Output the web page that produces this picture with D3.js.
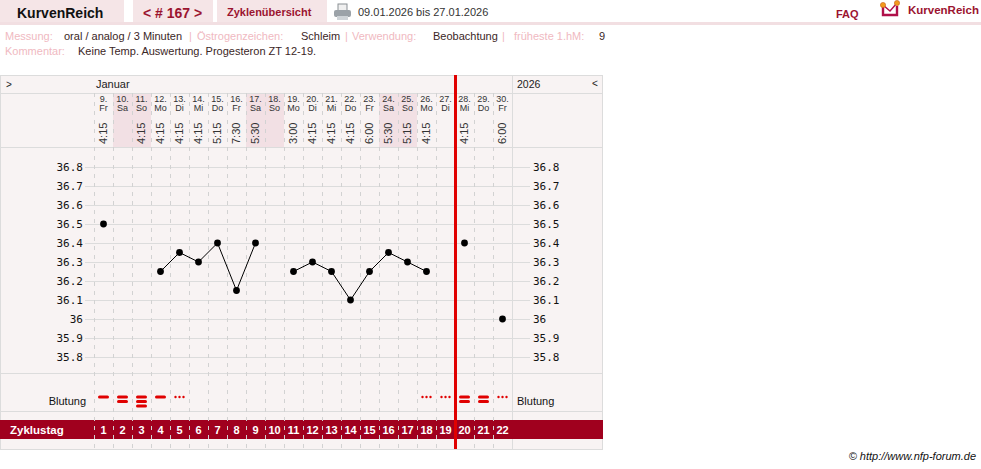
<!DOCTYPE html>
<html>
<head>
<meta charset="utf-8">
<script src="https://cdn.jsdelivr.net/npm/d3@7"></script>
<style>
  body { margin: 0; background: #fff; }
  svg { display: block; font-family: "Liberation Sans", Arial, sans-serif; }
</style>
</head>
<body>
<svg id="chart" width="981" height="469"></svg>
<script>
// data
const days      = [9, 10, 11, 12, 13, 14, 15, 16, 17, 18, 19, 20, 21, 22, 23, 24, 25, 26, 27, 28, 29, 30]
const weekdays  = ["Fr", "Sa", "So", "Mo", "Di", "Mi", "Do", "Fr", "Sa", "So", "Mo", "Di", "Mi", "Do", "Fr", "Sa", "So", "Mo", "Di", "Mi", "Do", "Fr"]
const times     = ["4:15", "", "4:15", "4:15", "4:15", "4:15", "5:15", "7:30", "5:30", "", "3:00", "4:15", "4:15", "4:15", "6:00", "5:30", "5:15", "4:15", "", "4:15", "", "6:00"]
const temps     = [36.5, null, null, 36.25, 36.35, 36.3, 36.4, 36.15, 36.4, null, 36.25, 36.3, 36.25, 36.1, 36.25, 36.35, 36.3, 36.25, null, 36.4, null, 36.0]
// 0 = none, 0.5 = spotting, 1..3 = strength
const bleeding  = [1, 2, 3, 1, 0.5, 0, 0, 0, 0, 0, 0, 0, 0, 0, 0, 0, 0, 0.5, 0.5, 2, 2, 0.5]
const cycleDays = [1, 2, 3, 4, 5, 6, 7, 8, 9, 10, 11, 12, 13, 14, 15, 16, 17, 18, 19, 20, 21, 22]
const yTicks    = [35.8, 35.9, 36.0, 36.1, 36.2, 36.3, 36.4, 36.5, 36.6, 36.7, 36.8]
const newCycleDay = 28

const rows = days.map((d, i) => ({ day: d, wd: weekdays[i], time: times[i], t: temps[i], b: bleeding[i], zt: cycleDays[i] }))

const svg = d3.select("#chart")
const dark = "#9b1430", grid = "#dcdcdc"

// ---- top bar
svg.append("rect").attr("x", 0).attr("y", 22).attr("width", 981).attr("height", 3).attr("fill", "#f2dfe2")
;[[0, 124], [133, 80], [217, 110]].forEach(function(b) {
  svg.append("rect").attr("x", b[0]).attr("y", 0).attr("width", b[1]).attr("height", 22).attr("fill", "#f5e5e7")
})
svg.append("text").attr("x", 17).attr("y", 18).attr("font-size", 14).attr("font-weight", "bold").attr("fill", "#111").text("KurvenReich")
svg.append("text").attr("x", 143).attr("y", 18).attr("font-size", 14).attr("font-weight", "bold").attr("fill", dark).text("< # 167 >")
svg.append("text").attr("x", 227).attr("y", 16).attr("font-size", 11).attr("font-weight", "bold").attr("fill", dark).text("Zyklenübersicht")

// printer icon
var pr = svg.append("g")
pr.append("rect").attr("x", 338).attr("y", 4).attr("width", 9).attr("height", 7).attr("fill", "#f0f0f0").attr("stroke", "#8a8f94")
pr.append("rect").attr("x", 334).attr("y", 10).attr("width", 17).attr("height", 7).attr("rx", 2).attr("fill", "#9ba2a8")
pr.append("rect").attr("x", 337).attr("y", 16).attr("width", 11).attr("height", 4).attr("fill", "#cfd4d8")
svg.append("text").attr("x", 358).attr("y", 16).attr("font-size", 11).attr("fill", "#333").text("09.01.2026 bis 27.01.2026")

svg.append("text").attr("x", 836).attr("y", 18).attr("font-size", 11).attr("font-weight", "bold").attr("fill", dark).text("FAQ")
var logo = svg.append("g")
logo.append("path").attr("d", "M883,7 L883,15 L897,15 L897,6").attr("fill", "none").attr("stroke", "#b0104a").attr("stroke-width", 2.4)
logo.append("path").attr("d", "M883,5 L890,11 L897,3").attr("fill", "none").attr("stroke", "#b0104a").attr("stroke-width", 1.4)
;[[883, 5], [897, 3]].forEach(function(p) {
  logo.append("circle").attr("cx", p[0]).attr("cy", p[1]).attr("r", 2.6).attr("fill", "#f39a1e").attr("stroke", "#c8601a").attr("stroke-width", 0.6)
})
svg.append("text").attr("x", 908).attr("y", 14).attr("font-size", 11.5).attr("font-weight", "bold").attr("fill", dark).text("KurvenReich")

// ---- info lines
const lab = "#f0b9c1", val = "#3b2626"
const info = [
  ["Messung:", 5, 40, lab], ["oral / analog / 3 Minuten", 64, 40, val], ["|", 189, 40, lab],
  ["Östrogenzeichen:", 197, 40, lab], ["Schleim", 301, 40, val], ["|", 345, 40, lab],
  ["Verwendung:", 352, 40, lab], ["Beobachtung", 433, 40, val], ["|", 502, 40, lab],
  ["früheste 1.hM:", 514, 40, lab], ["9", 599, 40, val],
  ["Kommentar:", 5, 55, lab], ["Keine Temp. Auswertung. Progesteron ZT 12-19.", 78, 55, val]
]
svg.selectAll(".info").data(info).enter().append("text")
  .attr("x", d => d[1]).attr("y", d => d[2]).attr("fill", d => d[3])
  .attr("font-size", 11).text(d => d[0])

// ---- chart
const x = d3.scaleBand().domain(days).range([94, 512])
const cx = d => x(d) + x.bandwidth() / 2
const y = d3.scaleLinear().domain([35.8, 36.8]).range([357, 167])

svg.append("rect").attr("x", 0.5).attr("y", 75.5).attr("width", 602).attr("height", 374)
  .attr("fill", "#f8f3f3").attr("stroke", grid)

// weekend shading in header
svg.selectAll(".we").data(rows.filter(r => r.wd === "Sa" || r.wd === "So")).enter().append("rect")
  .attr("x", d => x(d.day)).attr("y", 93).attr("width", x.bandwidth()).attr("height", 54).attr("fill", "#f2e0e4")

// horizontal grid lines
svg.selectAll(".gy").data(yTicks).enter().append("line")
  .attr("x1", 85).attr("x2", 530)
  .attr("y1", d => Math.round(y(d)) + 0.5).attr("y2", d => Math.round(y(d)) + 0.5)
  .attr("stroke", grid)

;[93, 147, 373, 411].forEach(function(h) {
  svg.append("line").attr("x1", 0).attr("x2", 603).attr("y1", h + 0.5).attr("y2", h + 0.5).attr("stroke", grid)
})
svg.append("line").attr("x1", 512.5).attr("x2", 512.5).attr("y1", 75).attr("y2", 449).attr("stroke", grid)

// cycle day band
svg.append("rect").attr("x", 0).attr("y", 420).attr("width", 603).attr("height", 19).attr("fill", "#a0001e")

// dashed day separators
svg.selectAll(".gx").data(days).enter().append("line")
  .attr("x1", d => x(d) + 0.5).attr("x2", d => x(d) + 0.5)
  .attr("y1", 93).attr("y2", 449)
  .attr("stroke", "#d2d2d2").attr("stroke-dasharray", "4,5")

// header texts
svg.append("text").attr("x", 6).attr("y", 88).attr("font-size", 10).attr("fill", "#222").text(">")
svg.append("text").attr("x", 96).attr("y", 88).attr("font-size", 11).attr("fill", "#222").text("Januar")
svg.append("text").attr("x", 517).attr("y", 88).attr("font-size", 10.5).attr("fill", "#222").text("2026")
svg.append("text").attr("x", 592).attr("y", 87).attr("font-size", 10).attr("fill", "#222").text("<")

var head = svg.selectAll(".hd").data(rows).enter().append("g")
  .attr("transform", d => "translate(" + cx(d.day) + ",0)")
  .attr("font-size", 9).attr("fill", "#333").attr("text-anchor", "middle")
head.append("text").attr("y", 102).text(d => d.day + ".")
head.append("text").attr("y", 111).text(d => d.wd)
head.append("text").attr("transform", "translate(0,144) rotate(-90)").attr("dy", "0.36em")
  .attr("text-anchor", "start").attr("font-size", 11).text(d => d.time)

// y axes
const fmt = d => String(+d.toFixed(1))
svg.append("g").attr("transform", "translate(85,0)")
  .call(d3.axisLeft(y).tickValues(yTicks).tickSize(0).tickPadding(2).tickFormat(fmt))
  .attr("font-family", "'DejaVu Sans Mono', monospace").attr("font-size", 11).attr("color", "#111")
  .call(g => g.select(".domain").remove())
svg.append("g").attr("transform", "translate(530,0)")
  .call(d3.axisRight(y).tickValues(yTicks).tickSize(0).tickPadding(3).tickFormat(fmt))
  .attr("font-family", "'DejaVu Sans Mono', monospace").attr("font-size", 11).attr("color", "#111")
  .call(g => g.select(".domain").remove())

// temperature curve
const line = d3.line().defined(d => d.t != null).x(d => cx(d.day)).y(d => y(d.t))
svg.append("path").datum(rows).attr("d", line).attr("fill", "none").attr("stroke", "#000").attr("stroke-width", 1)
svg.selectAll(".pt").data(rows.filter(d => d.t != null)).enter().append("circle")
  .attr("cx", d => cx(d.day)).attr("cy", d => y(d.t)).attr("r", 3.4).attr("fill", "#000")

// bleeding
svg.append("text").attr("x", 86).attr("y", 405).attr("font-size", 11).attr("text-anchor", "end").attr("fill", "#111").text("Blutung")
svg.append("text").attr("x", 517).attr("y", 405).attr("font-size", 11).attr("fill", "#111").text("Blutung")
rows.forEach(function(d) {
  if (d.b === 0.5) {
    [-4, 0, 4].forEach(function(o) {
      svg.append("circle").attr("cx", cx(d.day) + o).attr("cy", 397).attr("r", 1.2).attr("fill", "#e00000")
    })
  } else {
    d3.range(d.b).forEach(function(k) {
      svg.append("rect").attr("x", cx(d.day) - 5.5).attr("y", 395.5 + k * 4.5).attr("width", 11).attr("height", 3)
        .attr("rx", 1.5).attr("fill", "#e00000")
    })
  }
})

// cycle day numbers
svg.append("text").attr("x", 10).attr("y", 434).attr("font-size", 11.5).attr("font-weight", "bold").attr("fill", "#fff").text("Zyklustag")
svg.selectAll(".zt").data(rows).enter().append("text")
  .attr("x", d => cx(d.day)).attr("y", 434).attr("text-anchor", "middle")
  .attr("font-size", 11).attr("font-weight", "bold").attr("fill", "#fff").text(d => d.zt)

// new cycle marker
svg.append("line").attr("x1", x(newCycleDay) + 0.5).attr("x2", x(newCycleDay) + 0.5).attr("y1", 75).attr("y2", 449)
  .attr("stroke", "#e00000").attr("stroke-width", 3)

svg.append("text").attr("x", 976).attr("y", 460).attr("text-anchor", "end").attr("font-size", 11)
  .attr("font-style", "italic").attr("fill", "#111").text("© http://www.nfp-forum.de")
</script>
</body>
</html>
